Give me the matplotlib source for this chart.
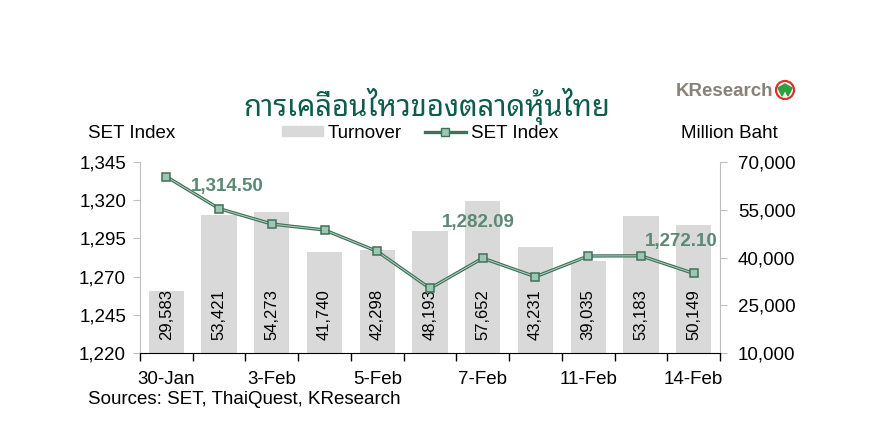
import matplotlib
matplotlib.use("Agg")
import matplotlib.pyplot as plt
from matplotlib.lines import Line2D
from matplotlib.patches import Patch, Circle, Polygon
import matplotlib.transforms as mtransforms

plt.rcParams['font.family'] = ['Liberation Sans', 'DejaVu Sans']

dates = ["30-Jan", "31-Jan", "3-Feb", "4-Feb", "5-Feb", "6-Feb",
         "7-Feb", "10-Feb", "11-Feb", "13-Feb", "14-Feb"]
turnover = [29583, 53421, 54273, 41740, 42298, 48193,
            57652, 43231, 39035, 53183, 50149]
set_index = [1335.4, 1314.50, 1304.4, 1300.5, 1286.5, 1262.3,
             1282.09, 1269.9, 1283.5, 1283.6, 1272.10]
# which points get a value label, and offsets in points
callouts = {1: (6, 16), 6: (-3, 26), 10: (-9, 23)}

title = "การเคลื่อนไหวของตลาดหุ้นไทย"
source = "Sources: SET, ThaiQuest, KResearch"

line_dark = "#3f725a"
line_light = "#b5d3c2"
marker_fill = "#9fc6b0"
label_green = "#5a8a74"
bar_gray = "#d9d9d9"
axis_gray = "#bfbfbf"


def main():
    fig = plt.figure(figsize=(8.75, 4.32), dpi=100)
    ax = fig.add_axes([140 / 875, 79 / 432, 580 / 875, 191 / 432])
    ax2 = ax.twinx()
    ax2.set_zorder(ax.get_zorder() - 1)
    ax.patch.set_visible(False)

    x = list(range(len(dates)))

    # bars on the right axis
    ax2.bar(x, turnover, width=0.67, color=bar_gray, zorder=1)
    ax2.set_ylim(10000, 70000)
    ax2.set_yticks([10000, 25000, 40000, 55000, 70000])
    ax2.set_yticklabels([f"{v:,}" for v in [10000, 25000, 40000, 55000, 70000]])
    trans = mtransforms.blended_transform_factory(ax2.transData, ax2.transAxes)
    for xi, v in zip(x, turnover):
        ax2.text(xi, 0.068, f"{v:,}", rotation=90, ha="center", va="bottom",
                 fontsize=12, transform=trans)

    # line on the left axis
    ax.plot(x, set_index, color=line_dark, lw=2.4, zorder=3, solid_capstyle="round")
    ax.plot(x, set_index, color=line_light, lw=0.7, zorder=4)
    ax.plot(x, set_index, ls="none", marker="s", ms=5.8, mfc=marker_fill,
            mec=line_dark, mew=1.1, zorder=5)
    for i, (dx, dy) in callouts.items():
        ax.annotate(f"{set_index[i]:,.2f}", (x[i], set_index[i]),
                    xytext=(dx, dy), textcoords="offset points",
                    ha="center", va="center", fontsize=13.5,
                    fontweight="bold", color=label_green, zorder=6)

    ax.set_ylim(1220, 1345)
    ax.set_yticks([1220, 1245, 1270, 1295, 1320, 1345])
    ax.set_yticklabels([f"{v:,}" for v in [1220, 1245, 1270, 1295, 1320, 1345]])
    ax.set_xlim(-0.5, len(dates) - 0.5)

    # x ticks: marks at the category edges, labels on every other day
    ax.set_xticks([i - 0.5 for i in range(len(dates) + 1)])
    ax.set_xticklabels([])
    ax.set_xticks(x[::2], minor=True)
    ax.set_xticklabels(dates[::2], minor=True)
    ax.tick_params(axis="x", which="major", direction="out", length=6,
                   width=1, color="black")
    ax.tick_params(axis="x", which="minor", length=0, pad=13, labelsize=13.5)

    ax.tick_params(axis="y", direction="out", length=5, color=axis_gray,
                   labelsize=13.5, pad=5)
    ax2.tick_params(axis="y", direction="out", length=5, color=axis_gray,
                    labelsize=13.5, pad=8)

    for a in (ax, ax2):
        a.spines["top"].set_visible(False)
        a.spines["left"].set_color(axis_gray)
        a.spines["right"].set_color(axis_gray)
        a.spines["bottom"].set_color("black")
    ax.spines["right"].set_visible(False)
    ax2.spines["left"].set_visible(False)
    ax2.spines["bottom"].set_visible(False)

    # texts around the plot
    fig.text(427 / 875, 1 - 106 / 432, title, ha="center", va="center",
             fontsize=21, fontweight="bold", color="#0d5c4c",
             family=["Noto Sans Thai Looped", "DejaVu Sans"])
    fig.text(88 / 875, 1 - 133 / 432, "SET Index", ha="left", va="center",
             fontsize=13.5)
    fig.text(778 / 875, 1 - 133 / 432, "Million Baht", ha="right", va="center",
             fontsize=13.5)
    fig.text(88 / 875, 1 - 400 / 432, source, ha="left", va="center",
             fontsize=13.5)

    handles = [Patch(color=bar_gray),
               Line2D([], [], color=line_dark, lw=2.4, marker="s", ms=5.8,
                      mfc=marker_fill, mec=line_dark)]
    fig.legend(handles, ["Turnover", "SET Index"], loc="center",
               bbox_to_anchor=(420 / 875, 1 - 133 / 432), ncol=2, frameon=False,
               fontsize=13.5, handlelength=2.2, handleheight=0.45,
               handletextpad=0.25, columnspacing=1.2, borderpad=0)

    # KResearch mark
    fig.text(676 / 875, 1 - 91 / 432, "KResearch", ha="left", va="center",
             fontsize=13.5, fontweight="bold", color="#8a8176")
    fig.patches.append(Circle((785, 432 - 90), 9, transform=None, fill=False,
                              ec="#e0302a", lw=1.6))
    fig.patches.append(Polygon([(778, 432 - 88), (785, 432 - 84), (792, 432 - 88),
                                (788, 432 - 96), (785, 432 - 90), (782, 432 - 96)],
                               closed=True, transform=None, color="#2e9e3e"))

    fig.savefig("out.png", dpi=100)


if __name__ == '__main__':
    main()
